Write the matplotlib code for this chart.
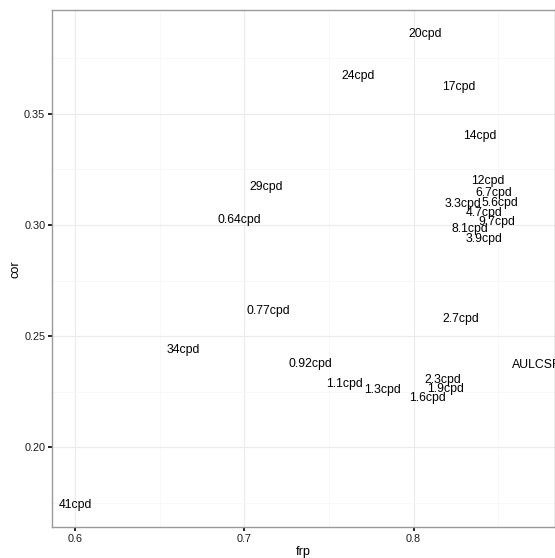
import numpy as np
import matplotlib
matplotlib.use('Agg')
import matplotlib.pyplot as plt
from matplotlib.ticker import MultipleLocator

plt.rcParams['font.family'] = ['Liberation Sans', 'DejaVu Sans']

labels = ['20cpd', '24cpd', '17cpd', '14cpd', '12cpd', '6.7cpd', '3.3cpd', '5.6cpd',
          '4.7cpd', '9.7cpd', '8.1cpd', '3.9cpd', '29cpd', '0.64cpd', '0.77cpd',
          '34cpd', '41cpd', '2.7cpd', '0.92cpd', 'AULCSF', '1.1cpd', '1.3cpd',
          '2.3cpd', '1.9cpd', '1.6cpd']
frp = [0.8067, 0.767, 0.8266, 0.8392, 0.8441, 0.8471, 0.829, 0.851,
       0.8418, 0.849, 0.8331, 0.8418, 0.713, 0.697, 0.7143,
       0.664, 0.600, 0.8278, 0.7388, 0.8723, 0.7593, 0.7817,
       0.8174, 0.8188, 0.8083]
cor = [0.3858, 0.367, 0.3621, 0.3402, 0.3197, 0.3143, 0.3096, 0.3099,
       0.3053, 0.3015, 0.2983, 0.2938, 0.3171, 0.3021, 0.2613,
       0.2437, 0.1741, 0.2576, 0.2373, 0.2369, 0.2283, 0.2257,
       0.2301, 0.2261, 0.2221]

fig = plt.figure(figsize=(5.55, 5.58), dpi=100)
ax = fig.add_axes([52.3/555, 1 - 527.3/558, (555 - 52.3)/555, (527.3 - 10.3)/558])

for lab, x, y in zip(labels, frp, cor):
    ax.text(x, y, lab, ha='center', va='center', fontsize=8.8, color='black', clip_on=True)

ax.set_xlim(0.5866, 0.8835)
ax.set_ylim(0.164, 0.3966)
ax.xaxis.set_major_locator(MultipleLocator(0.1))
ax.xaxis.set_minor_locator(MultipleLocator(0.05))
ax.yaxis.set_major_locator(MultipleLocator(0.05))
ax.yaxis.set_minor_locator(MultipleLocator(0.025))
ax.xaxis.set_major_formatter(plt.FuncFormatter(lambda v, p: '{:.1f}'.format(v)))
ax.yaxis.set_major_formatter(plt.FuncFormatter(lambda v, p: '{:.2f}'.format(v)))

ax.grid(which='major', color='#ebebeb', linewidth=0.8)
ax.grid(which='minor', color='#f5f5f5', linewidth=0.5)
ax.set_axisbelow(True)
ax.tick_params(which='major', length=3, width=1.2, color='black', labelsize=7.8,
               labelcolor='#1a1a1a', pad=2)
ax.tick_params(which='minor', length=0)
for s in ax.spines.values():
    s.set_color('#9a9a9a')
    s.set_linewidth(1.0)

ax.set_xlabel('frp', fontsize=9.2, labelpad=1)
ax.set_ylabel('cor', fontsize=9.2, labelpad=2)

fig.savefig('out.png', dpi=100)
